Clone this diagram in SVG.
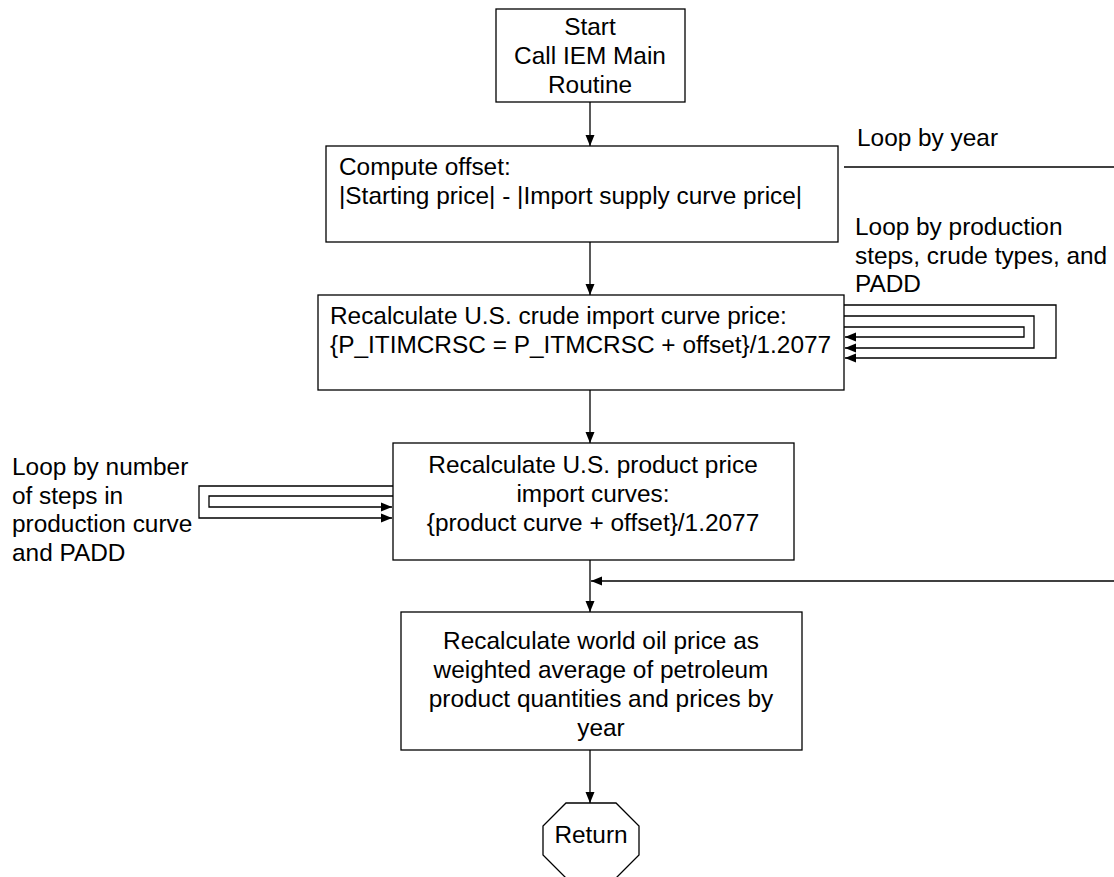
<svg xmlns="http://www.w3.org/2000/svg" width="1114" height="877" viewBox="0 0 1114 877">
<style>
.box{fill:#fff;stroke:#000;stroke-width:1.3}
.ln{fill:none;stroke:#000;stroke-width:1.3}
text{font-family:"Liberation Sans",Arial,sans-serif;font-size:24.4px;fill:#000}
.c{text-anchor:middle}
</style>
<defs>
<marker id="ah" markerUnits="userSpaceOnUse" markerWidth="12" markerHeight="10" viewBox="0 0 12 10" refX="11" refY="5" orient="auto">
<path d="M0,0.5 L11,5 L0,9.5 Z" fill="#000"/>
</marker>
</defs>
<rect width="1114" height="877" fill="#fff"/>
<g id="connectors">
<line class="ln" x1="590" y1="102" x2="590" y2="146" marker-end="url(#ah)"/>
<line class="ln" x1="590" y1="242" x2="590" y2="295" marker-end="url(#ah)"/>
<line class="ln" x1="590" y1="390" x2="590" y2="443" marker-end="url(#ah)"/>
<line class="ln" x1="590" y1="560" x2="590" y2="612" marker-end="url(#ah)"/>
<line class="ln" x1="590" y1="750" x2="590" y2="803" marker-end="url(#ah)"/>
<line class="ln" x1="844" y1="167" x2="1114" y2="167"/>
<line class="ln" x1="1114" y1="581" x2="591" y2="581" marker-end="url(#ah)"/>
<polyline class="ln" points="844,327 1024,327 1024,337 845,337" marker-end="url(#ah)"/>
<polyline class="ln" points="844,316 1034,316 1034,348 845,348" marker-end="url(#ah)"/>
<polyline class="ln" points="844,305 1056,305 1056,358 845,358" marker-end="url(#ah)"/>
<polyline class="ln" points="393,496 209,496 209,507 392,507" marker-end="url(#ah)"/>
<polyline class="ln" points="393,486 199,486 199,518 392,518" marker-end="url(#ah)"/>
</g>
<g id="start">
<rect class="box" x="496" y="9" width="189" height="93"/>
<text class="c" x="590" y="35">Start</text>
<text class="c" x="590" y="64">Call IEM Main</text>
<text class="c" x="590" y="93">Routine</text>
</g>
<g id="offset">
<rect class="box" x="326" y="146" width="512" height="96"/>
<text x="339" y="175">Compute offset:</text>
<text x="339" y="204">|Starting price| - |Import supply curve price|</text>
</g>
<g id="crude">
<rect class="box" x="318" y="295" width="526" height="95"/>
<text x="330" y="324">Recalculate U.S. crude import curve price:</text>
<text x="330" y="353">{P_ITIMCRSC = P_ITMCRSC + offset}/1.2077</text>
</g>
<g id="product">
<rect class="box" x="393" y="443" width="401" height="117"/>
<text class="c" x="593" y="473">Recalculate U.S. product price</text>
<text class="c" x="593" y="502">import curves:</text>
<text class="c" x="593" y="531">{product curve + offset}/1.2077</text>
</g>
<g id="world">
<rect class="box" x="401" y="612" width="401" height="138"/>
<text class="c" x="601" y="649">Recalculate world oil price as</text>
<text class="c" x="601" y="678">weighted average of petroleum</text>
<text class="c" x="601" y="707">product quantities and prices by</text>
<text class="c" x="601" y="736">year</text>
</g>
<g id="return">
<polygon class="box" points="566,803 616,803 639,826 639,855 616,878 566,878 543,855 543,826"/>
<text class="c" x="591" y="843">Return</text>
</g>
<g id="labels">
<text x="857" y="146">Loop by year</text>
<text x="855" y="235">Loop by production</text>
<text x="855" y="264">steps, crude types, and</text>
<text x="855" y="292">PADD</text>
<text x="12" y="475">Loop by number</text>
<text x="12" y="504">of steps in</text>
<text x="12" y="532">production curve</text>
<text x="12" y="561">and PADD</text>
</g>
</svg>
